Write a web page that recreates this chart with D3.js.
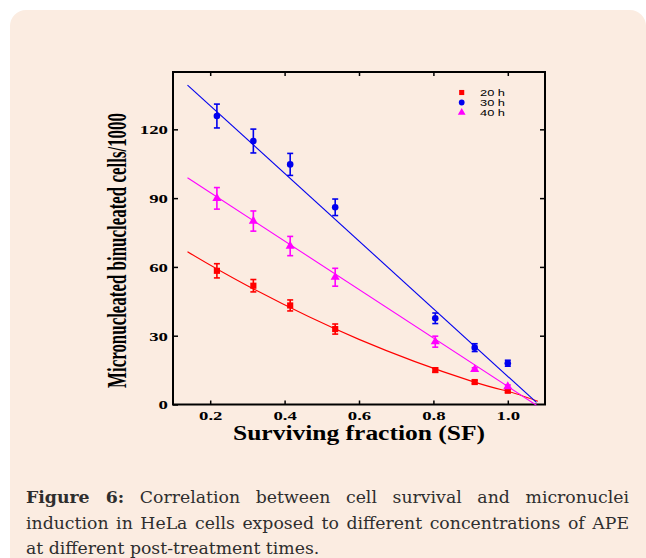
<!DOCTYPE html>
<html>
<head>
<meta charset="utf-8">
<script src="https://cdn.jsdelivr.net/npm/d3@7"></script>
<style>
  html, body { margin: 0; padding: 0; background: #ffffff; }
  #wrap { position: relative; width: 646px; height: 558px; overflow: hidden; }
  svg { position: absolute; left: 0; top: 0; }
  .caption { position: absolute; left: 26px; width: 603px; font-family: "DejaVu Serif", serif;
             font-size: 17.3px; color: #2e2e2e; line-height: 25.5px; white-space: nowrap; }
  .caption .j { text-align: justify; text-align-last: justify; }
</style>
</head>
<body>
<div id="wrap">
  <svg id="chart" width="646" height="558"></svg>
  <div class="caption" style="top: 485px;">
    <div class="j"><b>Figure 6:</b> Correlation between cell survival and micronuclei</div>
    <div class="j">induction in HeLa cells exposed to different concentrations of APE</div>
    <div>at different post-treatment times.</div>
  </div>
</div>
<script>
// Surviving fraction measured at each treatment concentration
const survivingFraction = [0.218, 0.316, 0.415, 0.536, 0.805, 0.911, 1.0];

// Micronucleated binucleated cells per 1000, with error bars
const mn20h = [58.3, 51.8, 43.2, 32.9, 15.0, 9.8, 6.0];
const err20h = [3.1, 2.7, 2.4, 2.2, 0.9, 0.7, 0.7];
const mn30h = [125.8, 114.9, 104.7, 86.0, 37.6, 24.8, 18.0];
const err30h = [5.2, 5.2, 4.8, 3.6, 2.3, 1.7, 1.3];
const mn40h = [89.9, 80.0, 69.1, 55.5, 27.4, 15.3, 7.8];
const err40h = [4.7, 4.4, 4.2, 3.9, 2.4, 0.7, 0.7];

// Fitted trend lines (points along each fit)
const fit20hX = [0.139, 0.3, 0.6, 0.9, 1.0, 1.081];
const fit20hY = [66.6, 51.8, 28.4, 10.3, 5.8, 1.4];
const fit30hX = [0.139, 1.077];
const fit30hY = [139.3, 0.9];
const fit40hX = [0.139, 1.077];
const fit40hY = [98.9, -0.3];

const seriesNames = ["20 h", "30 h", "40 h"];
const xTicks = [0.2, 0.4, 0.6, 0.8, 1.0];
const yTicks = [0, 30, 60, 90, 120];

const svg = d3.select("#chart");

// Rounded panel behind everything
svg.append("rect")
  .attr("x", 10).attr("y", 10).attr("width", 636).attr("height", 562)
  .attr("rx", 16).attr("fill", "#fbece1");

const x = d3.scaleLinear().domain([0.1, 1.1]).range([173, 545]);
const y = d3.scaleLinear().domain([0, 145]).range([404.5, 72]);

const serif = "'Liberation Serif', 'Times New Roman', serif";
const sans = "'Liberation Sans', Arial, sans-serif";

// Wide bold tick numbers
function stretchTicks(sel) {
  sel.selectAll("text").each(function () {
    const t = d3.select(this);
    const s = t.text();
    const len = s.replace(/[^0-9]/g, "").length * 9.4 + s.replace(/[0-9]/g, "").length * 4.6;
    t.attr("textLength", len).attr("lengthAdjust", "spacingAndGlyphs");
  });
}

const fmtX = d3.format(".1f");

const gx = svg.append("g").attr("transform", `translate(0,${y(0)})`)
  .call(d3.axisBottom(x).tickValues(xTicks).tickFormat(fmtX).tickSizeInner(-4).tickSizeOuter(0).tickPadding(5.5));
const gxTop = svg.append("g").attr("transform", `translate(0,${y(145)})`)
  .call(d3.axisTop(x).tickValues(xTicks).tickFormat("").tickSizeInner(-4).tickSizeOuter(0));
const gy = svg.append("g").attr("transform", `translate(${x(0.1)},0)`)
  .call(d3.axisLeft(y).tickValues(yTicks).tickSizeInner(-5).tickSizeOuter(0).tickPadding(5));
const gyRight = svg.append("g").attr("transform", `translate(${x(1.1)},0)`)
  .call(d3.axisRight(y).tickValues(yTicks.filter(d => d > 0)).tickFormat("").tickSizeInner(-5).tickSizeOuter(0));

[gx, gxTop, gy, gyRight].forEach(g => {
  g.select(".domain").remove();
  g.selectAll(".tick line").attr("stroke", "#000").attr("stroke-width", 1.5);
  g.selectAll("text").attr("font-family", serif).attr("font-weight", "bold")
    .attr("font-size", 13.5).attr("fill", "#000");
});
stretchTicks(gx);
stretchTicks(gy);

// Plot frame
svg.append("rect")
  .attr("x", x(0.1)).attr("y", y(145))
  .attr("width", x(1.1) - x(0.1)).attr("height", y(0) - y(145))
  .attr("fill", "none").attr("stroke", "#000").attr("stroke-width", 2);

// Axis titles
svg.append("text")
  .attr("x", 359).attr("y", 440)
  .attr("text-anchor", "middle")
  .attr("font-family", serif).attr("font-weight", "bold").attr("font-size", 20)
  .attr("textLength", 252).attr("lengthAdjust", "spacingAndGlyphs")
  .text("Surviving fraction (SF)");

// Tall, condensed vertical title
svg.append("text")
  .attr("transform", "translate(126,250.5) rotate(-90) scale(1,1.62)")
  .attr("text-anchor", "middle")
  .attr("font-family", serif).attr("font-weight", "bold").attr("font-size", 16.8)
  .attr("textLength", 275).attr("lengthAdjust", "spacingAndGlyphs")
  .text("Micronucleated binucleated cells/1000");

const series = [
  { name: seriesNames[0], color: "#ff0000", vals: mn20h, errs: err20h, fx: fit20hX, fy: fit20hY, shape: d3.symbolSquare, size: 38 },
  { name: seriesNames[1], color: "#0000ee", vals: mn30h, errs: err30h, fx: fit30hX, fy: fit30hY, shape: d3.symbolCircle, size: 34 },
  { name: seriesNames[2], color: "#ff00ff", vals: mn40h, errs: err40h, fx: fit40hX, fy: fit40hY, shape: d3.symbolTriangle, size: 36 }
];

const line = d3.line().x(d => x(d[0])).y(d => y(d[1])).curve(d3.curveNatural);

series.forEach(s => {
  const g = svg.append("g");
  // fitted line
  g.append("path")
    .datum(d3.zip(s.fx, s.fy))
    .attr("d", line)
    .attr("fill", "none").attr("stroke", s.color).attr("stroke-width", 1.1);

  const pts = d3.zip(survivingFraction, s.vals, s.errs);
  // error bars
  const eb = g.selectAll(".eb").data(pts).join("g");
  eb.append("line")
    .attr("x1", d => x(d[0])).attr("x2", d => x(d[0]))
    .attr("y1", d => y(d[1] - d[2])).attr("y2", d => y(d[1] + d[2]))
    .attr("stroke", s.color).attr("stroke-width", 1.6);
  [-1, 1].forEach(sign => {
    eb.append("line")
      .attr("x1", d => x(d[0]) - 3).attr("x2", d => x(d[0]) + 3)
      .attr("y1", d => y(d[1] + sign * d[2])).attr("y2", d => y(d[1] + sign * d[2]))
      .attr("stroke", s.color).attr("stroke-width", 1.6);
  });
  // markers
  g.selectAll(".mk").data(pts).join("path")
    .attr("transform", d => `translate(${x(d[0])},${y(d[1])})`)
    .attr("d", d3.symbol().type(s.shape).size(s.size))
    .attr("fill", s.color);
});

// Legend
const legend = svg.append("g");
series.forEach((s, i) => {
  const ly = 92.5 + i * 10;
  legend.append("path")
    .attr("transform", `translate(461.7,${ly})`)
    .attr("d", d3.symbol().type(s.shape).size(26))
    .attr("fill", s.color);
  legend.append("text")
    .attr("x", 480).attr("y", ly + 3.5)
    .attr("font-family", sans).attr("font-size", 9.5).attr("fill", "#000")
    .attr("textLength", 25).attr("lengthAdjust", "spacingAndGlyphs")
    .text(s.name);
});
</script>
</body>
</html>
